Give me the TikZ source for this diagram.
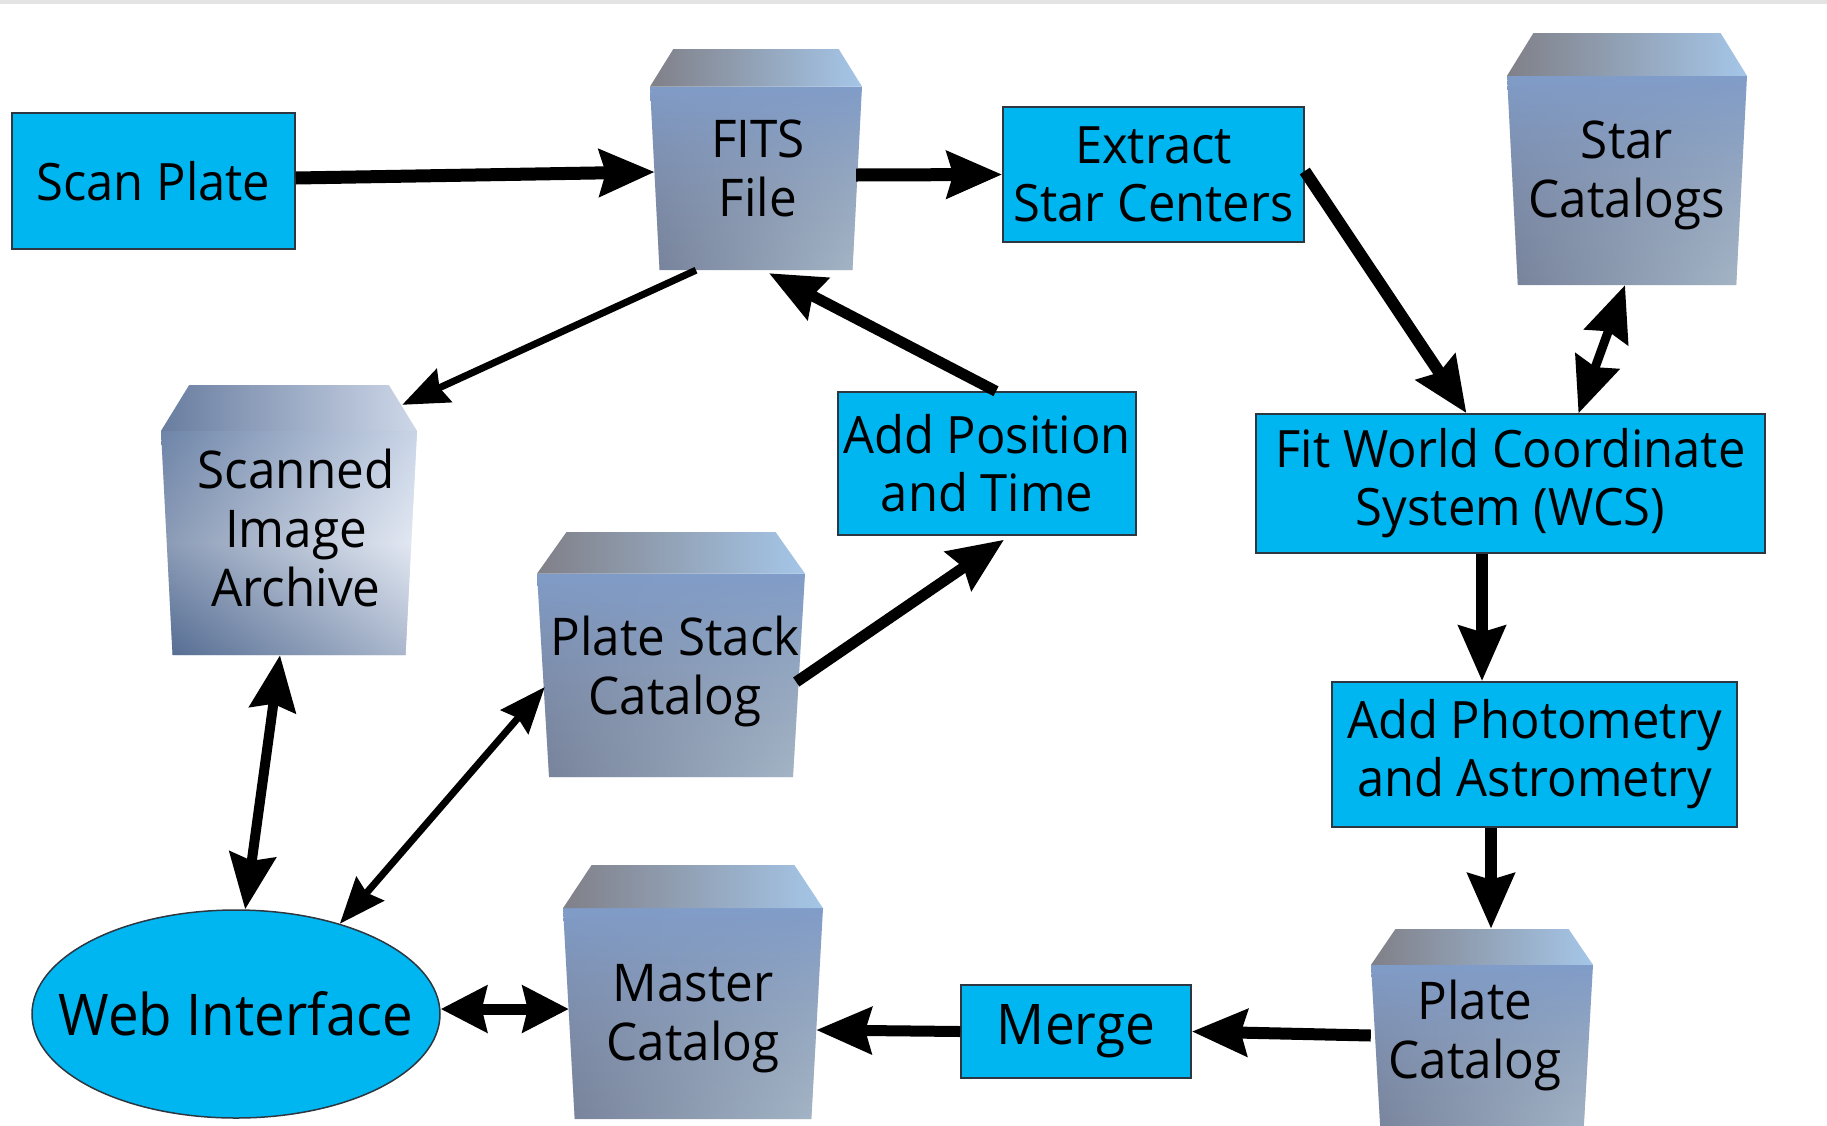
\documentclass[tikz,border=0pt]{standalone}
\usepackage{fontspec}
\setmainfont{Open Sans}[FakeStretch=0.95]
\usetikzlibrary{arrows.meta,shapes.geometric,fadings}
\definecolor{boxcyan}{RGB}{0,182,240}
\definecolor{boxedge}{RGB}{45,55,65}
\definecolor{cfT}{RGB}{128,156,200}
\definecolor{cfB}{RGB}{145,145,150}
\definecolor{csL}{RGB}{92,115,160}
\definecolor{csR}{RGB}{185,220,250}
\definecolor{ctL}{RGB}{128,128,136}
\definecolor{ctR}{RGB}{165,198,232}
\definecolor{afT}{RGB}{160,180,210}
\definecolor{afM}{RGB}{220,226,238}
\definecolor{afB}{RGB}{100,122,158}
\definecolor{asL}{RGB}{70,95,135}
\definecolor{asR}{RGB}{235,240,248}
\definecolor{atL}{RGB}{105,125,160}
\definecolor{atR}{RGB}{205,215,232}
\tikzset{
  proc/.style={rectangle, draw=boxedge, line width=1.5pt, fill=boxcyan,
    align=center, inner sep=0pt, font=\fontsize{51.5}{58}\selectfont},
  webnode/.style={ellipse, draw=boxedge, line width=1.5pt, fill=boxcyan,
    inner sep=0pt, font=\fontsize{57.5}{64}\selectfont},
  cubenode/.style={rectangle, draw=none, inner sep=0pt},
  lbl/.style={align=center, font=\fontsize{52}{59}\selectfont},
  std front/.style={top color=cfT, bottom color=cfB},
  std side/.style={left color=csL, right color=csR, opacity=0.5, path fading=north},
  std top/.style={left color=ctL, right color=ctR},
  arc front/.style={top color=afT, bottom color=afB, middle color=afM},
  arc side/.style={left color=asL, right color=asR, opacity=0.55},
  arc top/.style={left color=atL, right color=atR},
  tipbig/.tip={Stealth[length=55pt,width=46pt,inset=6pt]},
  tipmid/.tip={Stealth[length=46pt,width=46pt,inset=5pt]},
  tipsmall/.tip={Stealth[length=46pt,width=36pt,inset=5pt]},
  arr/.style={-tipbig, line width=12pt},
  darr/.style={tipbig-tipbig, line width=10pt},
  tarr/.style={-tipsmall, line width=7pt},
  tdarr/.style={tipsmall-tipsmall, line width=7pt},
}
\newcommand\cubeat[5]{% x1,y1,x2,y2,style
  \pgfmathsetmacro\cbw{#3-#1}\pgfmathsetmacro\cbh{#4-#2}%
  \pgfmathsetmacro\cbya{#2+0.17*\cbh}%
  \pgfmathsetmacro\cbxa{#1+0.11*\cbw}\pgfmathsetmacro\cbxb{#3-0.11*\cbw}%
  \pgfmathsetmacro\cbxc{#1+0.045*\cbw}\pgfmathsetmacro\cbxd{#3-0.045*\cbw}%
  \shade[#5 front] (#1,\cbya) -- (#3,\cbya) -- (\cbxd,#4) -- (\cbxc,#4) -- cycle;
  \shade[#5 side] (#1,\cbya) -- (#3,\cbya) -- (\cbxd,#4) -- (\cbxc,#4) -- cycle;
  \shade[#5 top] (\cbxa,#2) -- (\cbxb,#2) -- (#3,\cbya) -- (#1,\cbya) -- cycle;
}
\begin{document}
\begin{tikzpicture}[x=1pt,y=-1pt]
\useasboundingbox (0,0) rectangle (1827,1125);
\fill[gray!22] (0,0) rectangle (1827,4);

% cube bodies
\cubeat{650}{49}{862}{270}{std}
\cubeat{1507}{33}{1747}{285}{std}
\cubeat{161}{385}{417}{655}{arc}
\cubeat{537}{532}{805}{777}{std}
\cubeat{563}{865}{823}{1119}{std}
\cubeat{1371}{929}{1593}{1140}{std}

% cube nodes
\node[cubenode, minimum width=212, minimum height=221,
  label={[lbl,yshift=-9pt,xshift=2pt]center:FITS\\File}] (fits) at (756,159.5) {};
\node[cubenode, minimum width=240, minimum height=252,
  label={[lbl,yshift=-16pt]center:Star\\Catalogs}] (starcat) at (1627,159) {};
\node[cubenode, minimum width=256, minimum height=270,
  label={[lbl,yshift=-8pt,xshift=7pt]center:Scanned\\Image\\Archive}] (archive) at (289,520) {};
\node[cubenode, minimum width=268, minimum height=245,
  label={[lbl,yshift=-17pt,xshift=4pt]center:Plate Stack\\Catalog}] (stack) at (671,654.5) {};
\node[cubenode, minimum width=260, minimum height=254,
  label={[lbl,yshift=-27pt]center:Master\\Catalog}] (master) at (693,992) {};
\node[cubenode, minimum width=222, minimum height=211,
  label={[lbl,yshift=-1pt,xshift=-7pt]center:Plate\\Catalog}] (platecat) at (1482,1034.5) {};

% process boxes
\node[proc, minimum width=283, minimum height=136] (scan) at (153.5,181) {Scan Plate};
\node[proc, minimum width=301, minimum height=135] (extract) at (1153.5,174.5) {Extract\\Star Centers};
\node[proc, minimum width=298, minimum height=143] (addpos) at (987,463.5) {Add Position\\and Time};
\node[proc, minimum width=509, minimum height=139] (wcs) at (1510.5,483.5) {Fit World Coordinate\\System (WCS)};
\node[proc, minimum width=405, minimum height=145] (addphot) at (1534.5,754.5) {Add Photometry\\and Astrometry};
\node[proc, minimum width=230, minimum height=93, font=\fontsize{56}{64}\selectfont] (merge) at (1076,1031.5) {Merge};
\node[webnode, minimum width=408, minimum height=208] (web) at (236,1014) {\makebox[0pt]{Web Interface}};

% connectors
\draw[arr, line width=13pt] ([yshift=3pt]scan.east) -- ([xshift=5pt,yshift=-12.5pt]fits.west);
\draw[arr, line width=13pt] ([xshift=-6pt,yshift=-15.5pt]fits.east) -- (extract.west);
\draw[arr] ([yshift=3.5pt]extract.east) -- ([xshift=-44pt]wcs.north);
\draw[darr, line width=9pt] ([xshift=-2pt]starcat.south) -- ([xshift=68pt]wcs.north);
\draw[tarr] ([xshift=-60pt]fits.south) -- ([xshift=-15pt,yshift=-20pt]archive.north east);
\draw[arr, line width=11pt] ([xshift=9pt]addpos.north) -- ([xshift=13pt,yshift=-3pt]fits.south);
\draw[arr, line width=11pt] ([xshift=-9pt,yshift=-27.5pt]stack.east) -- ([xshift=17pt,yshift=-4pt]addpos.south);
\draw[arr] ([xshift=-28.5pt]wcs.south) -- ([xshift=-52.5pt]addphot.north);
\draw[arr] ([xshift=-43.5pt]addphot.south) -- ([xshift=9pt]platecat.north);
\draw[arr] ([yshift=-1pt]platecat.west) -- (merge.east);
\draw[arr, line width=11pt] (merge.west) -- ([xshift=-7pt,yshift=-38pt]master.east);
\draw[tipmid-tipmid, line width=11pt] ([yshift=5pt]web.east) -- ([xshift=6pt,yshift=-17pt]master.west);
\draw[darr] (web.85) -- ([xshift=-9pt]archive.south);
\draw[tdarr] (web.41) -- ([xshift=8pt,yshift=-32.5pt]stack.west);
\end{tikzpicture}
\end{document}
